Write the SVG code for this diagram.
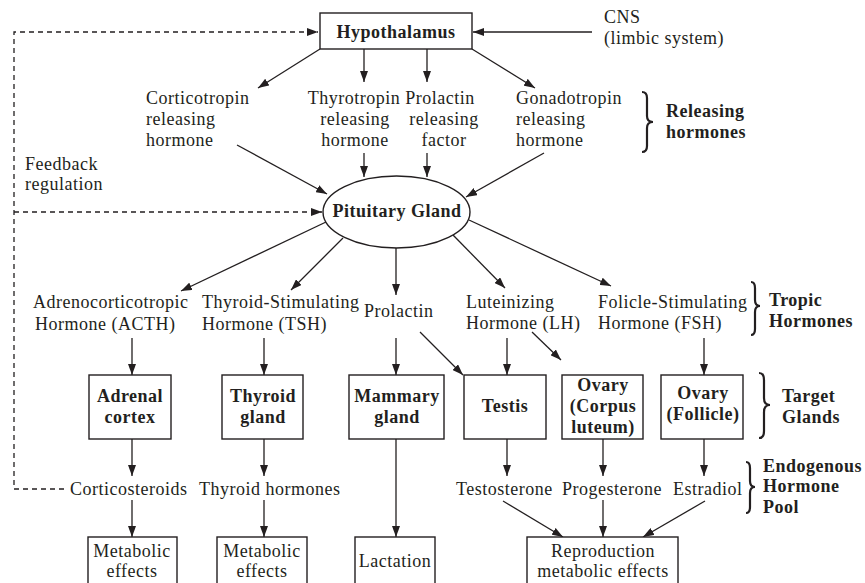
<svg xmlns="http://www.w3.org/2000/svg" width="865" height="583" viewBox="0 0 865 583">
<defs>
<marker id="ah" viewBox="0 0 11 8" refX="11" refY="4" markerWidth="11" markerHeight="8" markerUnits="userSpaceOnUse" orient="auto">
<path d="M0,0 L11,4 L0,8 z" fill="#231f20"/>
</marker>
<style>
text{font-family:"Liberation Serif","Times New Roman",serif;font-size:18px;fill:#231f20;letter-spacing:0.5px}
.b{font-weight:bold}
.m{text-anchor:middle}
.box{fill:#fff;stroke:#231f20;stroke-width:1.4}
.ln{stroke:#231f20;stroke-width:1.3;fill:none;marker-end:url(#ah)}
.dl{stroke:#231f20;stroke-width:1.3;fill:none;stroke-dasharray:5 4}
.br{stroke:#231f20;stroke-width:2.2;fill:none}
</style>
</defs>
<rect width="865" height="583" fill="#fff"/>

<g id="connectors">
<!-- feedback dashed -->
<path class="dl" d="M64,489 H14 V32 H318" marker-end="url(#ah)"/>
<path class="dl" d="M14,212 H322" marker-end="url(#ah)"/>
<!-- CNS -->
<line class="ln" x1="592" y1="32" x2="473" y2="32"/>
<!-- hypothalamus down -->
<line class="ln" x1="320" y1="49" x2="258" y2="88"/>
<line class="ln" x1="364" y1="49" x2="364" y2="82"/>
<line class="ln" x1="427" y1="49" x2="427" y2="82"/>
<line class="ln" x1="472" y1="49" x2="535" y2="88"/>
<!-- releasing to pituitary -->
<line class="ln" x1="237" y1="145" x2="327" y2="194"/>
<line class="ln" x1="364" y1="153" x2="364" y2="177"/>
<line class="ln" x1="427" y1="153" x2="427" y2="177"/>
<line class="ln" x1="544" y1="153" x2="466" y2="197"/>
<!-- pituitary to tropic -->
<line class="ln" x1="326" y1="222" x2="181" y2="291"/>
<line class="ln" x1="343" y1="238" x2="291" y2="290"/>
<line class="ln" x1="396" y1="248" x2="396" y2="295"/>
<line class="ln" x1="453" y1="235" x2="505" y2="288"/>
<line class="ln" x1="469" y1="220" x2="611" y2="286"/>
<!-- tropic to glands -->
<line class="ln" x1="132" y1="338" x2="132" y2="375"/>
<line class="ln" x1="264" y1="338" x2="264" y2="375"/>
<line class="ln" x1="396" y1="338" x2="396" y2="375"/>
<line class="ln" x1="420" y1="332" x2="463" y2="375"/>
<line class="ln" x1="507" y1="338" x2="507" y2="375"/>
<line class="ln" x1="532" y1="332" x2="561" y2="360"/>
<line class="ln" x1="704" y1="338" x2="704" y2="375"/>
<!-- glands to hormones -->
<line class="ln" x1="132" y1="439" x2="132" y2="476"/>
<line class="ln" x1="264" y1="439" x2="264" y2="476"/>
<line class="ln" x1="396" y1="439" x2="396" y2="537"/>
<line class="ln" x1="507" y1="439" x2="507" y2="476"/>
<line class="ln" x1="603" y1="439" x2="603" y2="476"/>
<line class="ln" x1="704" y1="439" x2="704" y2="476"/>
<!-- hormones to effects -->
<line class="ln" x1="132" y1="500" x2="132" y2="537"/>
<line class="ln" x1="264" y1="500" x2="264" y2="537"/>
<line class="ln" x1="503" y1="501" x2="563" y2="537"/>
<line class="ln" x1="603" y1="500" x2="603" y2="537"/>
<line class="ln" x1="705" y1="501" x2="643" y2="537"/>
</g>

<g id="hypothalamus">
<rect class="box" x="320" y="13" width="152" height="36"/>
<text class="b m" x="396" y="38">Hypothalamus</text>
</g>
<g id="cns">
<text x="604" y="23">CNS</text>
<text x="604" y="44">(limbic system)</text>
</g>
<g id="feedback">
<text x="25" y="170">Feedback</text>
<text x="25" y="190">regulation</text>
</g>

<g id="crh">
<text x="146" y="104">Corticotropin</text>
<text x="146" y="125">releasing</text>
<text x="146" y="146">hormone</text>
</g>
<g id="trh">
<text class="m" x="354" y="104">Thyrotropin</text>
<text class="m" x="355" y="125">releasing</text>
<text class="m" x="355" y="146">hormone</text>
</g>
<g id="prf">
<text class="m" x="440" y="104">Prolactin</text>
<text class="m" x="444" y="125">releasing</text>
<text class="m" x="444" y="146">factor</text>
</g>
<g id="gnrh">
<text x="516" y="104">Gonadotropin</text>
<text x="516" y="125">releasing</text>
<text x="516" y="146">hormone</text>
</g>
<g id="releasing-label">
<path class="br" d="M642,92 Q647,92 647,98 L647,116 Q647,122 653,122 Q647,122 647,128 L647,146 Q647,152 642,152"/>
<text class="b" x="666" y="117">Releasing</text>
<text class="b" x="666" y="138">hormones</text>
</g>

<g id="pituitary">
<ellipse class="box" cx="396.5" cy="212" rx="73.5" ry="36"/>
<text class="b m" x="397" y="217">Pituitary Gland</text>
</g>

<g id="acth">
<text x="33" y="308">Adrenocorticotropic</text>
<text x="35" y="330">Hormone (ACTH)</text>
</g>
<g id="tsh">
<text x="202" y="308">Thyroid-Stimulating</text>
<text x="202" y="330">Hormone (TSH)</text>
</g>
<g id="prolactin">
<text x="364" y="317">Prolactin</text>
</g>
<g id="lh">
<text x="466" y="308">Luteinizing</text>
<text x="466" y="329">Hormone (LH)</text>
</g>
<g id="fsh">
<text x="598" y="308">Folicle-Stimulating</text>
<text x="598" y="329">Hormone (FSH)</text>
</g>
<g id="tropic-label">
<path class="br" d="M751,282 Q755,282 755,288 L755,300 Q755,306 760,306 Q755,306 755,312 L755,329 Q755,335 751,335"/>
<text class="b" x="769" y="306">Tropic</text>
<text class="b" x="769" y="327">Hormones</text>
</g>

<g id="adrenal">
<rect class="box" x="89" y="375" width="82" height="64"/>
<text class="b m" x="130" y="402">Adrenal</text>
<text class="b m" x="130" y="423">cortex</text>
</g>
<g id="thyroid">
<rect class="box" x="222" y="375" width="81" height="64"/>
<text class="b m" x="263" y="402">Thyroid</text>
<text class="b m" x="263" y="423">gland</text>
</g>
<g id="mammary">
<rect class="box" x="349" y="375" width="95" height="64"/>
<text class="b m" x="397" y="402">Mammary</text>
<text class="b m" x="397" y="423">gland</text>
</g>
<g id="testis">
<rect class="box" x="464" y="375" width="82" height="64"/>
<text class="b m" x="505" y="412">Testis</text>
</g>
<g id="ovary-cl">
<rect class="box" x="562" y="375" width="81" height="64"/>
<text class="b m" x="603" y="391">Ovary</text>
<text class="b m" x="603" y="412">(Corpus</text>
<text class="b m" x="603" y="433">luteum)</text>
</g>
<g id="ovary-f">
<rect class="box" x="661" y="375" width="82" height="64"/>
<text class="b m" x="703" y="399">Ovary</text>
<text class="b m" x="703" y="420">(Follicle)</text>
</g>
<g id="target-label">
<path class="br" d="M759,373 Q764,373 764,380 L764,398 Q764,405 770,405 Q764,405 764,412 L764,431 Q764,438 759,438"/>
<text class="b" x="782" y="402">Target</text>
<text class="b" x="782" y="423">Glands</text>
</g>

<g id="corticosteroids"><text x="70" y="495">Corticosteroids</text></g>
<g id="thyroid-hormones"><text x="199" y="495">Thyroid hormones</text></g>
<g id="testosterone"><text x="456" y="495">Testosterone</text></g>
<g id="progesterone"><text x="562" y="495">Progesterone</text></g>
<g id="estradiol"><text x="673" y="495">Estradiol</text></g>
<g id="endogenous-label">
<path class="br" d="M746,462 Q750,462 750,468 L750,481 Q750,487 755,487 Q750,487 750,493 L750,507 Q750,513 746,513"/>
<text class="b" x="763" y="472">Endogenous</text>
<text class="b" x="763" y="492">Hormone</text>
<text class="b" x="763" y="513">Pool</text>
</g>

<g id="metabolic1">
<rect class="box" x="88" y="537" width="89" height="60"/>
<text class="m" x="132" y="557">Metabolic</text>
<text class="m" x="132" y="577">effects</text>
</g>
<g id="metabolic2">
<rect class="box" x="217" y="537" width="90" height="60"/>
<text class="m" x="262" y="557">Metabolic</text>
<text class="m" x="262" y="577">effects</text>
</g>
<g id="lactation">
<rect class="box" x="355" y="537" width="80" height="60"/>
<text class="m" x="395" y="567">Lactation</text>
</g>
<g id="reproduction">
<rect class="box" x="527" y="537" width="151" height="60"/>
<text class="m" x="603" y="557">Reproduction</text>
<text class="m" x="603" y="577">metabolic effects</text>
</g>
</svg>
